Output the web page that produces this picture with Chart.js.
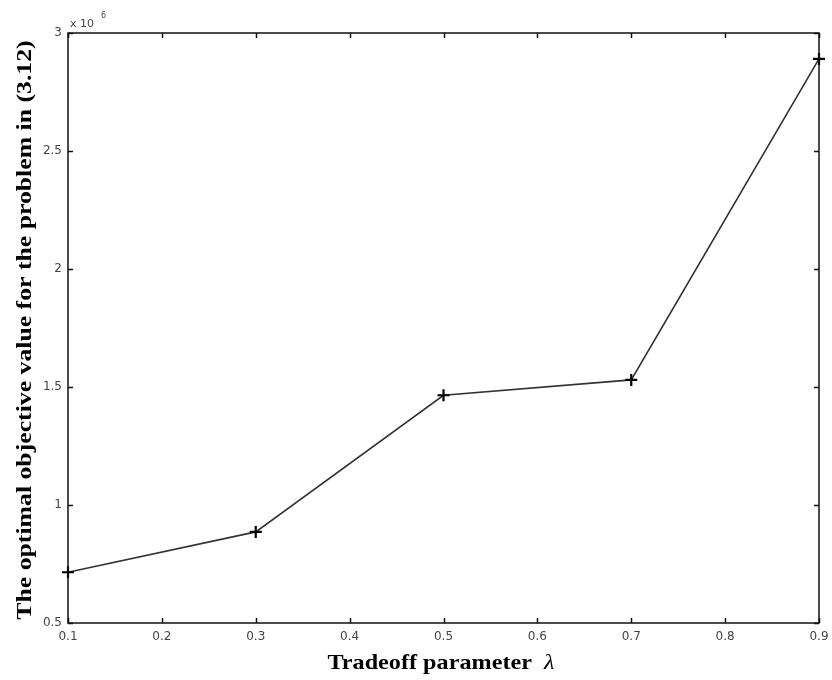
<!DOCTYPE html>
<html>
<head>
<meta charset="utf-8">
<script src="https://cdn.jsdelivr.net/npm/chart.js@4.4.1/dist/chart.umd.min.js"></script>
<style>
  html, body { margin: 0; padding: 0; background: #fff; }
  #wrap { width: 832px; height: 680px; }
</style>
</head>
<body>
<div id="wrap"><canvas id="c" width="832" height="680"></canvas></div>
<script>
// Data (objective values in units of 1e6)
const lambdas = [0.1, 0.3, 0.5, 0.7, 0.9];
const objectiveValues = [0.715, 0.886, 1.465, 1.53, 2.89];
const xTicks = [0.1, 0.2, 0.3, 0.4, 0.5, 0.6, 0.7, 0.8, 0.9];
const yTicks = [0.5, 1, 1.5, 2, 2.5, 3];
const yExponent = '6';
const xTitle = 'Tradeoff parameter';
const xTitleSymbol = 'λ';
const yTitle = 'The optimal objective value for the problem in (3.12)';

const frame = {
  id: 'frame',
  afterDraw(chart) {
    const ctx = chart.ctx;
    const a = chart.chartArea;
    const xs = chart.scales.x, ys = chart.scales.y;
    ctx.save();
    ctx.strokeStyle = '#111';
    ctx.lineWidth = 1.5;
    ctx.strokeRect(a.left, a.top, a.right - a.left, a.bottom - a.top);
    const tl = 5;
    ctx.beginPath();
    xTicks.forEach(v => {
      const px = Math.round(xs.getPixelForValue(v)) + 0.5;
      ctx.moveTo(px, a.bottom); ctx.lineTo(px, a.bottom - tl);
      ctx.moveTo(px, a.top); ctx.lineTo(px, a.top + tl);
    });
    yTicks.forEach(v => {
      const py = Math.round(ys.getPixelForValue(v)) + 0.5;
      ctx.moveTo(a.left, py); ctx.lineTo(a.left + tl, py);
      ctx.moveTo(a.right, py); ctx.lineTo(a.right - tl, py);
    });
    ctx.stroke();

    // exponent label
    ctx.fillStyle = '#444';
    ctx.font = '11px "DejaVu Sans", sans-serif';
    ctx.textBaseline = 'alphabetic';
    ctx.textAlign = 'left';
    ctx.fillText('x 10', a.left + 2, a.top - 6);
    ctx.font = '8px "DejaVu Sans", sans-serif';
    ctx.fillText(yExponent, a.left + 33, a.top - 15);

    // x title
    ctx.fillStyle = '#000';
    const fs = 22;
    ctx.save();
    ctx.translate(441, 663);
    ctx.scale(1.1, 1);
    ctx.font = 'bold ' + fs + 'px "Liberation Serif", serif';
    const w1 = ctx.measureText(xTitle + '  ').width;
    ctx.font = 'italic ' + fs + 'px "Liberation Serif", serif';
    const w2 = ctx.measureText(xTitleSymbol).width;
    let sx = -(w1 + w2) / 2;
    ctx.textBaseline = 'middle';
    ctx.font = 'bold ' + fs + 'px "Liberation Serif", serif';
    ctx.fillText(xTitle + '  ', sx, 0);
    ctx.font = 'italic ' + fs + 'px "Liberation Serif", serif';
    ctx.fillText(xTitleSymbol, sx + w1, 0);
    ctx.restore();

    // y title
    ctx.save();
    ctx.translate(25, 330);
    ctx.rotate(-Math.PI / 2);
    ctx.scale(1.17, 1);
    ctx.textAlign = 'center';
    ctx.textBaseline = 'middle';
    ctx.font = 'bold ' + fs + 'px "Liberation Serif", serif';
    ctx.fillText(yTitle, 0, 0);
    ctx.restore();
    ctx.restore();
  }
};

new Chart(document.getElementById('c'), {
  type: 'line',
  data: {
    datasets: [{
      data: lambdas.map((x, i) => ({ x, y: objectiveValues[i] })),
      borderColor: '#333',
      borderWidth: 1.6,
      pointStyle: 'cross',
      pointRadius: 6,
      pointBorderWidth: 2.2,
      pointBorderColor: '#000',
      pointBackgroundColor: '#000',
      tension: 0,
      clip: false
    }]
  },
  options: {
    responsive: false,
    animation: false,
    layout: { padding: { top: 33, right: 13, left: 0, bottom: 0 } },
    plugins: { legend: { display: false }, tooltip: { enabled: false } },
    scales: {
      x: {
        type: 'linear', min: 0.1, max: 0.9,
        afterBuildTicks: s => { s.ticks = xTicks.map(v => ({ value: v })); },
        afterFit: s => { s.height = 57; s.paddingLeft = 0; s.paddingRight = 0; },
        grid: { display: false, drawTicks: false },
        border: { display: false },
        ticks: {
          color: '#444', padding: 7,
          font: { family: '"DejaVu Sans", sans-serif', size: 12 },
          callback: v => String(Math.round(v * 10) / 10)
        }
      },
      y: {
        type: 'linear', min: 0.5, max: 3,
        afterBuildTicks: s => { s.ticks = yTicks.map(v => ({ value: v })); },
        afterFit: s => { s.width = 68; s.paddingTop = 0; s.paddingBottom = 0; },
        grid: { display: false, drawTicks: false },
        border: { display: false },
        ticks: {
          color: '#444', padding: 6,
          font: { family: '"DejaVu Sans", sans-serif', size: 12 },
          callback: v => String(v)
        }
      }
    }
  },
  plugins: [frame]
});
</script>
</body>
</html>
